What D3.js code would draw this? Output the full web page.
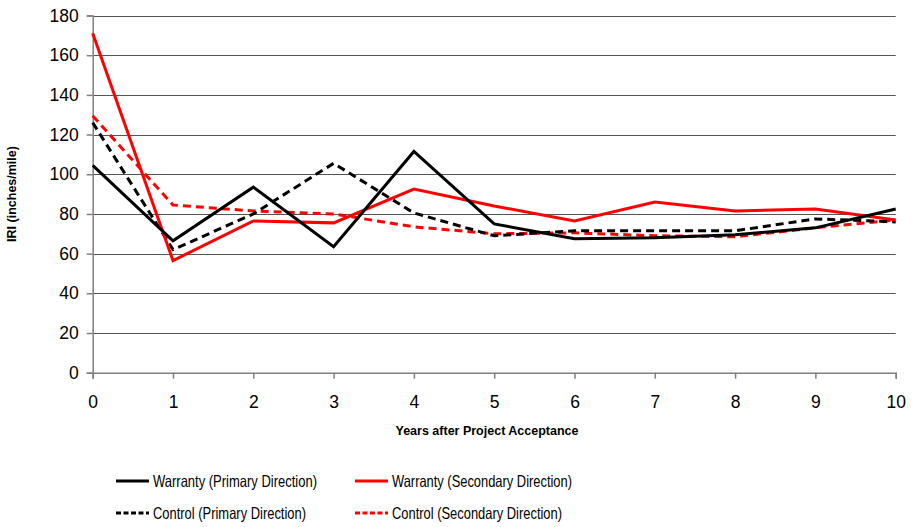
<!DOCTYPE html>
<html>
<head>
<meta charset="utf-8">
<script src="https://cdn.jsdelivr.net/npm/d3@7"></script>
<style>
  body { margin: 0; background: #fff; }
  svg { display: block; font-family: "Liberation Sans", Arial, sans-serif; }
</style>
</head>
<body>
<div id="chart"></div>
<script>
// data
const years = [0, 1, 2, 3, 4, 5, 6, 7, 8, 9, 10];
const warrantyPrimary   = [104.5, 66.5, 93.5, 63.5, 111.5, 75, 67.5, 68, 69.5, 73, 82.5];
const warrantySecondary = [171, 56.5, 76.5, 75.5, 92.5, 84, 76.5, 86, 81.5, 82.5, 77];
const controlPrimary    = [126, 62, 80, 105.5, 80.5, 69, 71.5, 71.5, 71.5, 77.5, 76];
const controlSecondary  = [129.5, 84.5, 81.5, 80, 73.5, 70, 70.5, 69, 68.5, 73, 77];
const yTicks = [0, 20, 40, 60, 80, 100, 120, 140, 160, 180];

const series = [
  { name: "Warranty (Primary Direction)", values: warrantyPrimary, color: "#000", dash: null },
  { name: "Warranty (Secondary Direction)", values: warrantySecondary, color: "#ff0000", dash: null },
  { name: "Control (Primary Direction)", values: controlPrimary, color: "#000", dash: "8,5" },
  { name: "Control (Secondary Direction)", values: controlSecondary, color: "#ff0000", dash: "8,5" }
];

const W = 913, H = 527;
const plot = { left: 92.7, right: 895.7, top: 15.5, bottom: 372.7 };

const svg = d3.select("#chart").append("svg")
  .attr("width", W).attr("height", H);

const x = d3.scaleLinear().domain([0, 10]).range([plot.left, plot.right]);
const y = d3.scaleLinear().domain([0, 180]).range([plot.bottom, plot.top]);

// gridlines
svg.append("g")
  .selectAll("line")
  .data(yTicks.filter(d => d > 0))
  .join("line")
  .attr("x1", plot.left).attr("x2", plot.right)
  .attr("y1", d => Math.round(y(d)) + 0.5).attr("y2", d => Math.round(y(d)) + 0.5)
  .attr("stroke", "#555").attr("stroke-width", 1);

// y axis
const yAxis = svg.append("g")
  .attr("transform", `translate(${plot.left},0)`)
  .call(d3.axisLeft(y).tickValues(yTicks).tickSize(6).tickPadding(8));
yAxis.select(".domain").attr("stroke", "#808080").attr("stroke-width", 1.5);
yAxis.selectAll(".tick line").attr("stroke", "#808080").attr("stroke-width", 1.5);
yAxis.selectAll(".tick text")
  .attr("font-size", 17.5).attr("font-family", "Liberation Sans, Arial, sans-serif").attr("fill", "#000");

// x axis
const xAxis = svg.append("g")
  .attr("transform", `translate(0,${plot.bottom})`)
  .call(d3.axisBottom(x).tickValues(years).tickFormat(d3.format("d")).tickSize(6).tickPadding(17));
xAxis.select(".domain").attr("stroke", "#808080").attr("stroke-width", 1.5);
xAxis.selectAll(".tick line").attr("stroke", "#808080").attr("stroke-width", 1.5);
xAxis.selectAll(".tick text")
  .attr("font-size", 17.5).attr("font-family", "Liberation Sans, Arial, sans-serif").attr("fill", "#000");

// axis titles
svg.append("text")
  .attr("x", 487).attr("y", 435)
  .attr("text-anchor", "middle")
  .attr("font-size", 12.5).attr("font-weight", "bold")
  .text("Years after Project Acceptance");

svg.append("text")
  .attr("transform", "translate(16,194) rotate(-90)")
  .attr("text-anchor", "middle")
  .attr("font-size", 12.5).attr("font-weight", "bold")
  .text("IRI (inches/mile)");

// lines
const line = d3.line()
  .x((d, i) => x(years[i]))
  .y(d => y(d));

// draw control first, warranty on top
const drawOrder = [series[3], series[2], series[1], series[0]];
svg.append("g")
  .selectAll("path")
  .data(drawOrder)
  .join("path")
  .attr("d", d => line(d.values))
  .attr("fill", "none")
  .attr("stroke", d => d.color)
  .attr("stroke-width", 3)
  .attr("stroke-dasharray", d => d.dash)
  .attr("stroke-linejoin", "miter");

// legend
const legendPos = [
  { lx: 116, ly: 481, tl: 164 },
  { lx: 355, ly: 481, tl: 180 },
  { lx: 116, ly: 513, tl: 153 },
  { lx: 355, ly: 513, tl: 170 }
];
const legend = svg.append("g")
  .selectAll("g")
  .data(series)
  .join("g")
  .attr("transform", (d, i) => `translate(${legendPos[i].lx},${legendPos[i].ly})`);

legend.append("line")
  .attr("x1", 0).attr("x2", 33)
  .attr("y1", 0).attr("y2", 0)
  .attr("stroke", d => d.color)
  .attr("stroke-width", 3)
  .attr("stroke-dasharray", d => d.dash ? "5,2.5" : null);

legend.append("text")
  .attr("x", 37).attr("y", 6)
  .attr("font-size", 16.5)
  .attr("textLength", (d, i) => legendPos[i].tl)
  .attr("lengthAdjust", "spacingAndGlyphs")
  .text(d => d.name);
</script>
</body>
</html>
